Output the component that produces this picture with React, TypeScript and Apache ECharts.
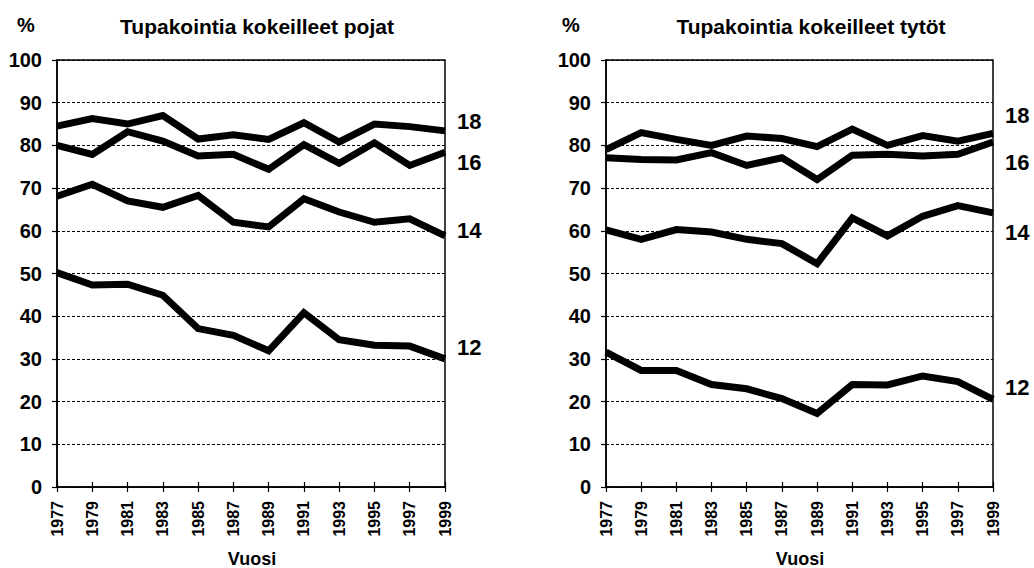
import React, { useEffect, useRef } from "react";
import * as echarts from "echarts";

const years = ["1977", "1979", "1981", "1983", "1985", "1987", "1989", "1991", "1993", "1995", "1997", "1999"];
const ageLabels = ["18", "16", "14", "12"];

const boys18 = [84.5, 86.3, 85.0, 87.0, 81.5, 82.5, 81.4, 85.3, 80.8, 85.0, 84.4, 83.4];
const boys16 = [80.0, 77.9, 83.2, 81.0, 77.5, 77.9, 74.4, 80.2, 75.8, 80.6, 75.3, 78.4];
const boys14 = [68.1, 70.9, 67.0, 65.5, 68.3, 62.0, 60.9, 67.5, 64.4, 62.0, 62.8, 58.8];
const boys12 = [50.2, 47.3, 47.5, 44.9, 37.1, 35.5, 31.9, 40.8, 34.5, 33.2, 33.0, 30.0];

const girls18 = [79.0, 83.0, 81.4, 80.0, 82.2, 81.6, 79.7, 83.8, 80.0, 82.3, 81.0, 82.8];
const girls16 = [77.1, 76.7, 76.6, 78.3, 75.3, 77.1, 72.0, 77.7, 77.9, 77.5, 77.9, 80.8];
const girls14 = [60.2, 58.0, 60.3, 59.7, 58.0, 57.0, 52.3, 63.0, 58.8, 63.4, 65.9, 64.2];
const girls12 = [31.6, 27.3, 27.3, 24.0, 23.0, 20.7, 17.2, 24.0, 23.9, 26.0, 24.7, 20.5];

const titles = ["Tupakointia kokeilleet pojat", "Tupakointia kokeilleet tytöt"];
const yUnit = "%";
const xName = "Vuosi";

const FONT = "'Liberation Sans', Arial, sans-serif";

export default function App() {
  const ref = useRef<HTMLDivElement>(null);
  useEffect(() => {
    if (!ref.current) return;
    const chart = echarts.init(ref.current, undefined, { renderer: "svg" });

    const grids = [
      { left: 57, right: 589, top: 60, bottom: 81 },
      { left: 606, right: 41, top: 60, bottom: 81 },
    ];

    const xAxes: any[] = [];
    const yAxes: any[] = [];
    grids.forEach((_, gi) => {
      xAxes.push({
        type: "category",
        gridIndex: gi,
        data: years,
        boundaryGap: false,
        position: "bottom",
        axisLine: { show: true, lineStyle: { color: "#000", width: 1.5 } },
        axisTick: { show: true, inside: false, length: 5, lineStyle: { color: "#000", width: 1.2 } },
        axisLabel: {
          rotate: 90,
          margin: 14,
          color: "#000",
          fontFamily: FONT,
          fontWeight: "bold",
          fontSize: 16,
          interval: 0,
        },
        splitLine: { show: false },
      });
      xAxes.push({
        type: "category",
        gridIndex: gi,
        data: years,
        boundaryGap: false,
        position: "bottom",
        offset: 0,
        axisLine: { show: false },
        axisTick: { show: true, inside: true, length: 5, lineStyle: { color: "#000", width: 1.2 } },
        axisLabel: { show: false },
        splitLine: { show: false },
      });
      yAxes.push({
        type: "value",
        gridIndex: gi,
        min: 0,
        max: 100,
        interval: 10,
        axisLine: { show: true, lineStyle: { color: "#000", width: 1.5 } },
        axisTick: { show: true, inside: false, length: 5, lineStyle: { color: "#000", width: 1.2 } },
        axisLabel: {
          margin: 15,
          color: "#000",
          fontFamily: FONT,
          fontWeight: "bold",
          fontSize: 20,
        },
        splitLine: { show: true, lineStyle: { color: "#000", width: 1, type: [3, 2] } },
      });
    });

    const boysSets = [boys18, boys16, boys14, boys12];
    const girlsSets = [girls18, girls16, girls14, girls12];
    const boysOffsets = [-9, 10, -5, -11];
    const girlsOffsets = [-18, 21, 20, -12];

    const mk = (data: number[], name: string, gi: number, dy: number) => ({
      type: "line",
      name,
      xAxisIndex: gi * 2,
      yAxisIndex: gi,
      data,
      symbol: "none",
      lineStyle: { color: "#000", width: 7, join: "miter" },
      itemStyle: { color: "#000" },
      endLabel: {
        show: true,
        formatter: name,
        distance: 12,
        offset: [0, dy],
        color: "#000",
        fontFamily: FONT,
        fontWeight: "bold",
        fontSize: 22,
      },
      z: 3,
    });

    const series: any[] = [];
    boysSets.forEach((d, i) => series.push(mk(d, ageLabels[i], 0, boysOffsets[i])));
    girlsSets.forEach((d, i) => series.push(mk(d, ageLabels[i], 1, girlsOffsets[i])));

    const textStyle = (txt: string, size: number) => ({
      text: txt,
      fill: "#000",
      font: `bold ${size}px ${FONT}`,
      textAlign: "center",
      textVerticalAlign: "middle",
    });

    chart.setOption({
      animation: false,
      backgroundColor: "#fff",
      grid: grids.map((g) => ({ ...g, show: true, borderColor: "#000", borderWidth: 1.5, backgroundColor: "transparent" })),
      xAxis: xAxes,
      yAxis: yAxes,
      series,
      graphic: [
        { type: "text", x: 26, y: 25, style: textStyle(yUnit, 20) },
        { type: "text", x: 571, y: 25, style: textStyle(yUnit, 20) },
        { type: "text", x: 257, y: 26, style: textStyle(titles[0], 21) },
        { type: "text", x: 811, y: 26, style: textStyle(titles[1], 21) },
        { type: "text", x: 252, y: 559, style: textStyle(xName, 18) },
        { type: "text", x: 800, y: 559, style: textStyle(xName, 18) },
      ],
    });
    return () => chart.dispose();
  }, []);
  return <div ref={ref} style={{ position: "absolute", left: 0, top: 0, width: 1034, height: 568 }} />;
}
